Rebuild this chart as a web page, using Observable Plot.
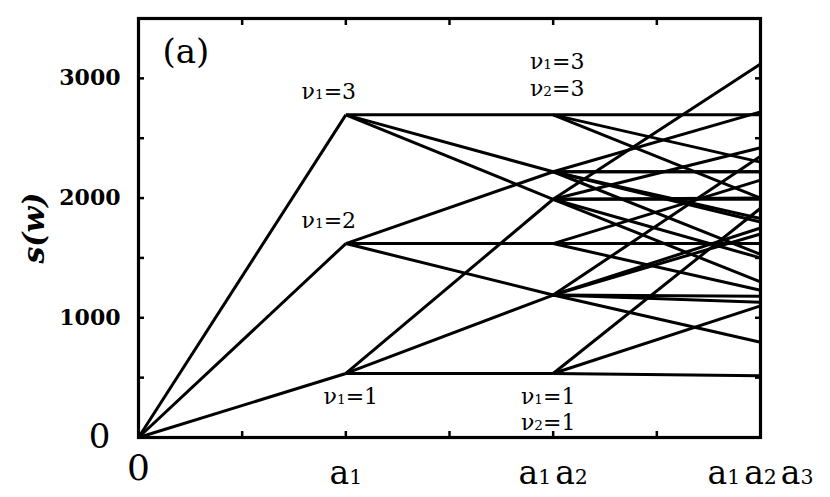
<!DOCTYPE html>
<html><head><meta charset="utf-8">
<script src="https://cdn.jsdelivr.net/npm/d3@7"></script>
<script src="https://cdn.jsdelivr.net/npm/@observablehq/plot@0.6"></script>
<style>
body{margin:0;background:#fff;}
#chart svg{display:block;}
</style></head><body><div id="chart"></div>
<script>
// x positions of the levels and their tick labels
const xLevels = [0, 1, 2, 3];
const xTickLabels = ["0", "a1", "a1a2", "a1a2a3"];
const yTickValues = [1000, 2000, 3000];
// s(w) at level 1 (nu1 = 1,2,3)
const level1 = [535, 1620, 2695];
// s(w) at level 2, [nu1][nu2]
const level2 = [
  [535, 1190, 1990],
  [1190, 1620, 2220],
  [1990, 2220, 2695]
];
// s(w) at level 3, [nu1][nu2][nu3]
const level3 = [
  [[515, 1100, 1915], [795, 1180, 1700], [1300, 1500, 2000]],
  [[1130, 1750, 2350], [1230, 1620, 2150], [1530, 1800, 2220]],
  [[1990, 2420, 3120], [1830, 2220, 2720], [2000, 2300, 2695]]
];
const annText = ["ν1=3", "ν1=2", "ν1=1", "ν1=3", "ν2=3", "ν1=1", "ν2=1"];
const annLevel = [1, 1, 1, 2, 2, 2, 2];
const annValue = [2695, 1620, 535, 2695, 2695, 535, 535];
const annPlace = ["above", "above", "below", "above1", "above2", "below1", "below2"];

const segs = [];
level1.forEach((v1, i) => {
  segs.push({x1: xLevels[0], y1: 0, x2: xLevels[1], y2: v1});
  level2[i].forEach((v2, j) => {
    segs.push({x1: xLevels[1], y1: v1, x2: xLevels[2], y2: v2});
    level3[i][j].forEach(v3 => segs.push({x1: xLevels[2], y1: v2, x2: xLevels[3], y2: v3}));
  });
});
const ann = annText.map((t, i) => ({text: t, x: annLevel[i], y: annValue[i], place: annPlace[i]}));
const pick = p => ann.filter(d => d.place === p);

const font = "DejaVu Serif";
const textOpts = {x: "x", y: "y", text: "text", fontSize: 22, fill: "#000"};

const chart = Plot.plot({
  width: 830, height: 497,
  marginLeft: 138, marginRight: 70, marginTop: 18, marginBottom: 60,
  x: {domain: [0, 3]},
  y: {domain: [0, 3500]},
  style: {fontFamily: font, background: "#fff", color: "#000"},
  marks: [
    Plot.link(segs, {x1: "x1", y1: "y1", x2: "x2", y2: "y2", stroke: "#000", strokeWidth: 3}),
    Plot.frame({stroke: "#000", strokeWidth: 3.2}),
    Plot.axisX(d3.range(0, 3.01, 0.5), {anchor: "bottom", tickSize: -6, strokeWidth: 2.5, tickFormat: () => "", label: null}),
    Plot.axisX(d3.range(0, 3.01, 0.5), {anchor: "top", tickSize: -6, strokeWidth: 2.5, tickFormat: () => "", label: null}),
    Plot.axisY(d3.range(0, 3501, 500), {anchor: "left", tickSize: -6, strokeWidth: 2.5, tickFormat: () => "", label: null}),
    Plot.axisY(d3.range(0, 3501, 500), {anchor: "right", tickSize: -6, strokeWidth: 2.5, tickFormat: () => "", label: null}),
    Plot.axisX([0], {anchor: "bottom", tickSize: 0, tickPadding: 17, fontSize: 36, tickFormat: d => xTickLabels[d], label: null}),
    Plot.axisX([1, 2, 3], {anchor: "bottom", tickSize: 0, tickPadding: 23, fontSize: 33, tickFormat: d => xTickLabels[d], label: null}),
    Plot.axisY(yTickValues, {anchor: "left", tickSize: 0, tickPadding: 18, fontSize: 22, fontWeight: "bold", tickFormat: d => String(d), label: null}),
    Plot.axisY([0], {anchor: "left", tickSize: 0, tickPadding: 28, fontSize: 34, tickFormat: d => String(d), label: null}),
    Plot.text(["s(w)"], {frameAnchor: "left", rotate: -90, textAnchor: "middle", dx: -104, dy: 0, fontSize: 30, fontStyle: "italic", fontWeight: "bold"}),
    Plot.text(["(a)"], {frameAnchor: "top-left", dx: 24, dy: 20, textAnchor: "start", fontSize: 34}),
    Plot.text(pick("above"), {...textOpts, dx: -17, dy: -23}),
    Plot.text(pick("below"), {...textOpts, dx: 5, dy: 24}),
    Plot.text(pick("above1"), {...textOpts, dx: 4, dy: -53}),
    Plot.text(pick("above2"), {...textOpts, dx: 4, dy: -26}),
    Plot.text(pick("below1"), {...textOpts, dx: -5, dy: 24}),
    Plot.text(pick("below2"), {...textOpts, dx: -5, dy: 50})
  ]
});

// render digits after a letter (ν, a) as small subscripts on the same baseline
const NS = "http://www.w3.org/2000/svg";
chart.querySelectorAll("text").forEach(t => {
  if (t.children.length) return;
  const s = t.textContent;
  if (!/[νa]\d/.test(s)) return;
  t.textContent = "";
  let prev = "";
  let first = true;
  for (const ch of s) {
    const sp = document.createElementNS(NS, "tspan");
    sp.textContent = ch;
    if (/\d/.test(ch) && /[νa]/.test(prev)) {
      sp.setAttribute("font-size", "0.62em");
    } else if (ch === "a" && !first) {
      sp.setAttribute("dx", "4");
    }
    t.appendChild(sp);
    prev = ch;
    first = false;
  }
});
document.getElementById("chart").appendChild(chart);
</script>
</body></html>
